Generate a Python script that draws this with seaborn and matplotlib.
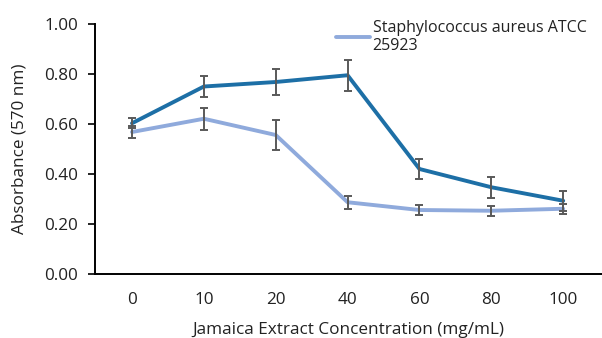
import numpy as np
import pandas as pd
import matplotlib
matplotlib.use("Agg")
import matplotlib.pyplot as plt
import seaborn as sns

concentrations = ["0", "10", "20", "40", "60", "80", "100"]
ecoli_mean = [0.603, 0.750, 0.768, 0.795, 0.420, 0.347, 0.293]
ecoli_err = [0.020, 0.041, 0.050, 0.061, 0.039, 0.041, 0.040]
saureus_mean = [0.568, 0.621, 0.556, 0.287, 0.256, 0.253, 0.261]
saureus_err = [0.023, 0.044, 0.060, 0.026, 0.019, 0.019, 0.020]

ecoli_label = "Escherichia coli ATCC 25922"
saureus_label = "Staphylococcus aureus ATCC\n25923"

dark_blue = "#1D6FA6"
light_blue = "#8FAADC"
err_color = "#595959"
text_color = "#222222"
fs = 12.3
legend_fs = 11.5

sns.set_theme(style="white")
plt.rcParams["font.family"] = ["Open Sans", "DejaVu Sans"]

pos = np.arange(len(concentrations))
df = pd.DataFrame({
    "pos": np.concatenate([pos, pos]),
    "absorbance": ecoli_mean + saureus_mean,
    "strain": [ecoli_label] * len(pos) + [saureus_label] * len(pos),
})

fig = plt.figure(figsize=(6.02, 3.38), dpi=100)
ax = fig.add_axes([95 / 602, 64 / 338, 1 - 95 / 602, 250 / 338])

sns.lineplot(data=df, x="pos", y="absorbance", hue="strain",
             palette={ecoli_label: dark_blue, saureus_label: light_blue},
             linewidth=2.8, ax=ax, legend=False, zorder=2)

for mean, err in [(ecoli_mean, ecoli_err), (saureus_mean, saureus_err)]:
    ax.errorbar(pos, mean, yerr=err, fmt="none", ecolor=err_color,
                elinewidth=1.4, capsize=2.8, capthick=1.4, zorder=3)

ax.set_xlim(-0.515, 6.54)
ax.set_ylim(0, 1.0)
ax.set_xticks(pos)
ax.set_xticklabels(concentrations)
ax.set_yticks(np.arange(0, 1.01, 0.2))
ax.set_yticklabels([f"{v:.2f}" for v in np.arange(0, 1.01, 0.2)])

for side in ["top", "right"]:
    ax.spines[side].set_visible(False)
for side in ["left", "bottom"]:
    ax.spines[side].set_color("black")
    ax.spines[side].set_linewidth(1.4)

ax.tick_params(axis="y", which="major", left=True, length=5, width=1.2,
               color="black", labelsize=fs, pad=7, labelcolor=text_color)
ax.tick_params(axis="x", which="major", bottom=False, labelsize=fs, pad=7,
               labelcolor=text_color)

ax.set_xlabel("Jamaica Extract Concentration (mg/mL)", fontsize=fs,
              color=text_color, labelpad=10)
ax.set_ylabel("Absorbance (570 nm)", fontsize=fs, color=text_color,
              labelpad=12)

handles = [
    plt.Line2D([], [], color=dark_blue, linewidth=2.8),
    plt.Line2D([], [], color=light_blue, linewidth=2.8),
]
leg = fig.legend(handles, [ecoli_label, saureus_label],
                 loc="upper left", bbox_to_anchor=(336 / 602, 1 + 13 / 338),
                 frameon=False, fontsize=legend_fs, handlelength=2.1,
                 handletextpad=0.2, labelspacing=1.05, borderpad=0,
                 borderaxespad=0)
for t in leg.get_texts():
    t.set_color(text_color)

fig.savefig("out.png", dpi=100)
